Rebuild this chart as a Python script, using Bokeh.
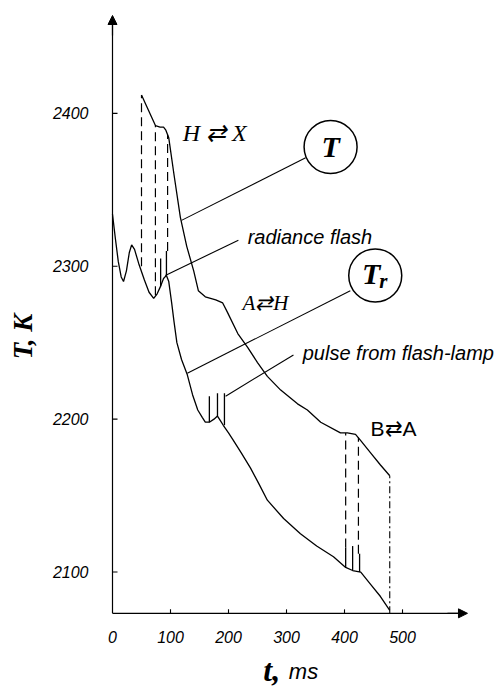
import math
from bokeh.plotting import figure
from bokeh.models import Range1d, Label, Arrow, NormalHead
from bokeh.core.properties import value
from bokeh.embed import file_html
from bokeh.resources import INLINE

# ---------------- data ----------------
# true temperature T (upper curve)
t_T = [50, 62, 74, 82, 88, 92, 97, 106, 117, 128, 140, 148, 160, 178, 190, 198,
       216, 233, 250, 267, 290, 319, 336, 359, 393, 405, 419, 428, 445, 462, 478]
T_T = [2412, 2402, 2392, 2391, 2391, 2389, 2384, 2360, 2332, 2313, 2297, 2284,
       2280, 2278, 2276, 2270, 2256, 2247, 2237, 2228, 2219, 2210, 2206, 2198,
       2191, 2191, 2190, 2186, 2178, 2170, 2163]

# radiance temperature Tr (lower curve)
t_Tr = [0, 5, 10, 15, 19, 24, 29, 33, 38, 45, 55, 63, 71, 77, 83, 88, 93, 97,
        102, 106, 111, 119, 129, 138, 147, 155, 160, 167, 175, 181, 186, 191,
        200, 207, 222, 238, 252, 267, 295, 324, 352, 381, 402, 414, 428, 445,
        462, 478]
T_Tr = [2334, 2318, 2303, 2293, 2290, 2297, 2309, 2314, 2311, 2302, 2291, 2283,
        2279, 2282, 2287, 2292, 2294, 2290, 2276, 2264, 2250, 2239, 2229, 2216,
        2206, 2201, 2198, 2198, 2200, 2202, 2199, 2196, 2191, 2187, 2178, 2168,
        2158, 2147, 2135, 2125, 2117, 2110, 2103, 2101, 2100, 2092, 2084, 2075]

# radiance-flash spikes
flash_t = [83, 93]
flash_base = [2287, 2294]
flash_top = [2305, 2310]

# flash-lamp pulse spikes
pulse_t = [167, 181, 193, 402, 414, 426]
pulse_base = [2198, 2202, 2196, 2103, 2101, 2100]
pulse_top = [2215, 2217, 2217, 2116, 2117, 2112]

# phase-transition markers (dashed verticals)
trans_t = [50, 74, 95, 402, 424]
trans_top = [2412, 2392, 2386, 2191, 2188]
trans_bot = [2300, 2281, 2310, 2116, 2112]

# end of record (dash-dot)
end_t = [478]
end_top = [2163]

x_ticks = [0, 100, 200, 300, 400, 500]
x_labels = ["0", "100", "200", "300", "400", "500"]
y_ticks = [2100, 2200, 2300, 2400]
y_labels = ["2100", "2200", "2300", "2400"]

# axis extent (data units)
X0, X1 = 0, 612
Y0, Y1 = 2073, 2464

# ---------------- figure (frame covers the whole page, axes drawn by hand) ----------------
W, H = 498, 687
xr = Range1d(-193.1, 665.5)
yr = Range1d(2024.5, 2473.8)
p = figure(width=W, height=H, x_range=xr, y_range=yr,
           x_axis_type=None, y_axis_type=None,
           output_backend="svg", toolbar_location=None,
           min_border=0, min_border_left=0, min_border_right=0,
           min_border_top=0, min_border_bottom=0)
p.outline_line_color = None
p.background_fill_color = "white"
p.border_fill_color = "white"

px_x = (xr.end - xr.start) / W   # data per pixel
px_y = (yr.end - yr.start) / H

# axis lines
p.segment(x0=[X0, X0], y0=[Y0, Y0], x1=[X0, X1 - 8 * px_x], y1=[Y1 - 8 * px_y, Y0],
          line_color="black", line_width=1.2)
p.add_layout(Arrow(end=NormalHead(size=9, fill_color="black", line_color="black"),
                   x_start=X0, y_start=Y1 - 20 * px_y, x_end=X0, y_end=Y1, line_width=1.2))
p.add_layout(Arrow(end=NormalHead(size=9, fill_color="black", line_color="black"),
                   x_start=X1 - 20 * px_x, y_start=Y0, x_end=X1, y_end=Y0, line_width=1.2))

# ticks (inward)
p.segment(x0=x_ticks[1:], y0=[Y0] * 5, x1=x_ticks[1:], y1=[Y0 + 4 * px_y] * 5,
          line_color="black", line_width=1.1)
p.segment(x0=[X0] * 4, y0=y_ticks, x1=[X0 + 5 * px_x] * 4, y1=y_ticks,
          line_color="black", line_width=1.1)

# tick labels
p.text(x=x_ticks, y=[Y0 - 24 * px_y] * 6, text=x_labels, text_font=value("Liberation Sans"),
       text_font_style="italic", text_font_size="16px", text_align="center",
       text_baseline="middle", text_color="black")
p.text(x=[X0 - 24 * px_x] * 4, y=y_ticks, text=y_labels, text_font=value("Liberation Sans"),
       text_font_style="italic", text_font_size="16px", text_align="right",
       text_baseline="middle", text_color="black")

# curves
p.line(t_T, T_T, line_color="black", line_width=1.3)
p.line(t_Tr, T_Tr, line_color="black", line_width=1.3)

# spikes
p.segment(x0=flash_t, y0=flash_base, x1=flash_t, y1=flash_top, line_color="black", line_width=1.3)
p.segment(x0=pulse_t, y0=pulse_base, x1=pulse_t, y1=pulse_top, line_color="black", line_width=1.3)

# transitions
p.segment(x0=trans_t, y0=trans_bot, x1=trans_t, y1=trans_top, line_color="black",
          line_width=1.2, line_dash="9 5")
p.segment(x0=end_t, y0=[Y0], x1=end_t, y1=end_top, line_color="black",
          line_width=1.1, line_dash="7 3 2 3")

# leader lines
lead_x0 = [333, 217, 410, 312]
lead_y0 = [2371, 2317, 2284, 2242]
lead_x1 = [119, 91, 129, 195]
lead_y1 = [2330, 2294, 2230, 2215]
p.segment(x0=lead_x0, y0=lead_y0, x1=lead_x1, y1=lead_y1, line_color="black", line_width=1.1)

# circles for curve names
p.scatter(x=[376, 453], y=[2378, 2294], size=53, marker="circle",
          fill_color="white", line_color="black", line_width=1.5)

serif = "Liberation Serif"
sans = "Liberation Sans"

def lab(x, y, text, font, size, style="normal", align="left", baseline="alphabetic",
        angle=0, xo=0, yo=0):
    p.add_layout(Label(x=x, y=y, text=text, text_font=font, text_font_size=size,
                       text_font_style=style, text_align=align, text_baseline=baseline,
                       angle=angle, x_offset=xo, y_offset=yo, text_color="black"))

lab(376, 2378, "T", serif, "30px", "bold italic", "center", "middle")
lab(453, 2294, "T", serif, "30px", "bold italic", "center", "middle", xo=-4, yo=2)
lab(453, 2294, "r", serif, "21px", "bold italic", "left", "middle", xo=4, yo=-6)

lab(121, 2387, "H \u21c4 X", serif, "24px", "italic")
lab(224, 2276, "A\u21c4H", serif, "21px", "italic")
lab(445, 2194, "B\u21c4A", sans, "21px", "normal")
lab(233, 2319, "radiance flash", sans, "20px", "italic")
lab(328, 2243, "pulse from flash-lamp", sans, "20px", "italic")

# axis titles
lab(-155, 2254, "T, K", serif, "27px", "bold italic", "center", "middle", angle=math.pi / 2)
lab(260, 2036, "t,", serif, "32px", "bold italic", "left", "middle")
lab(304, 2035, "ms", sans, "22px", "italic", "left", "middle")

open("out.html", "w").write(file_html(p, INLINE))
